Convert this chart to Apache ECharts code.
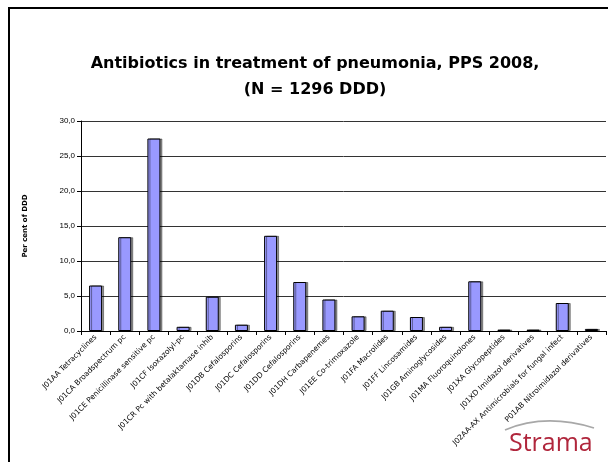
<!DOCTYPE html>
<html>
<head>
<meta charset="utf-8">
<script src="https://cdn.jsdelivr.net/npm/echarts@6/dist/echarts.min.js"></script>
<style>
  html, body { margin: 0; padding: 0; background: #fff; }
  #chart { width: 608px; height: 462px; }
</style>
</head>
<body>
<div id="chart"></div>
<script>
// ATC groups and share of DDD (%)
const categories = [
  'J01AA Tetracyclines',
  'J01CA Broadspectrum pc',
  'J01CE Penicillinase sensitive pc',
  'J01CF Isoxazolyl-pc',
  'J01CR Pc with betalaktamase inhib',
  'J01DB Cefalosporins',
  'J01DC Cefalosporins',
  'J01DD Cefalosporins',
  'J01DH Carbapenemes',
  'J01EE Co-trimoxazole',
  'J01FA Macrolides',
  'J01FF Lincosamides',
  'J01GB Aminoglycosides',
  'J01MA Fluoroquinolones',
  'J01XA Glycopeptides',
  'J01XD Imidazol derivatives',
  'J02AA-AX Antimicrobials for fungal infect',
  'P01AB Nitroimidazol derivatives'
]
const percentDDD = [6.5, 13.4, 27.5, 0.6, 4.9, 0.9, 13.6, 7.0, 4.5, 2.1, 2.9, 2.0, 0.6, 7.1, 0.2, 0.2, 4.0, 0.3]
const yTicks = [0, 5, 10, 15, 20, 25, 30]

const chart = echarts.init(document.getElementById('chart'))

chart.setOption({
  animation: false,
  title: {
    text: 'Antibiotics in treatment of pneumonia, PPS 2008,\n(N = 1296 DDD)',
    left: 310,
    top: 46,
    textAlign: 'center',
    textStyle: {
      fontFamily: 'DejaVu Sans',
      fontSize: 16,
      fontWeight: 'bold',
      color: '#000',
      lineHeight: 26
    }
  },
  grid: {
    left: 81,
    right: 2,
    top: 121,
    bottom: 131
  },
  xAxis: {
    type: 'category',
    data: categories,
    axisLine: { lineStyle: { color: '#000', width: 1 } },
    axisTick: { show: true, alignWithLabel: false, length: 4, lineStyle: { color: '#000' } },
    axisLabel: {
      interval: 0,
      rotate: 45,
      margin: 5,
      fontFamily: 'DejaVu Sans',
      fontSize: 7.5,
      color: '#000'
    }
  },
  yAxis: {
    type: 'value',
    min: yTicks[0],
    max: yTicks[yTicks.length - 1],
    interval: 5,
    name: 'Per cent of DDD',
    nameLocation: 'middle',
    nameRotate: 90,
    nameGap: 52,
    nameTextStyle: {
      fontFamily: 'DejaVu Sans',
      fontSize: 7,
      fontWeight: 'bold',
      color: '#000'
    },
    axisLine: { show: true, lineStyle: { color: '#000', width: 1 } },
    axisTick: { show: true, inside: false, length: 4, lineStyle: { color: '#000' } },
    splitLine: { show: true, lineStyle: { color: '#333', width: 1 } },
    axisLabel: {
      margin: 6,
      fontFamily: 'Liberation Sans, Arial',
      fontSize: 8,
      color: '#000',
      formatter: v => v.toFixed(1).replace('.', ',')
    }
  },
  series: [{
    type: 'bar',
    data: percentDDD,
    barWidth: 13,
    itemStyle: {
      color: '#9999ff',
      borderColor: '#000',
      borderWidth: 1,
      shadowColor: 'rgba(0,0,0,0.4)',
      shadowOffsetX: 2,
      shadowOffsetY: 0,
      shadowBlur: 0
    }
  }],
  graphic: [
    // slide frame
    { type: 'line', shape: { x1: 8, y1: 8, x2: 608, y2: 8 }, style: { stroke: '#000', lineWidth: 2 } },
    { type: 'line', shape: { x1: 9, y1: 8, x2: 9, y2: 462 }, style: { stroke: '#000', lineWidth: 2 } },
    // Strama logo
    {
      type: 'bezierCurve',
      shape: { x1: 505, y1: 430, x2: 594, y2: 428, cpx1: 545, cpy1: 413 },
      style: { stroke: '#a8a8a8', lineWidth: 1.8, fill: null }
    },
    {
      type: 'text',
      left: 509,
      top: 431,
      style: {
        text: 'Strama',
        font: '25px "Open Sans", "DejaVu Sans", sans-serif',
        fill: '#b0263c'
      }
    }
  ]
})
</script>
</body>
</html>
